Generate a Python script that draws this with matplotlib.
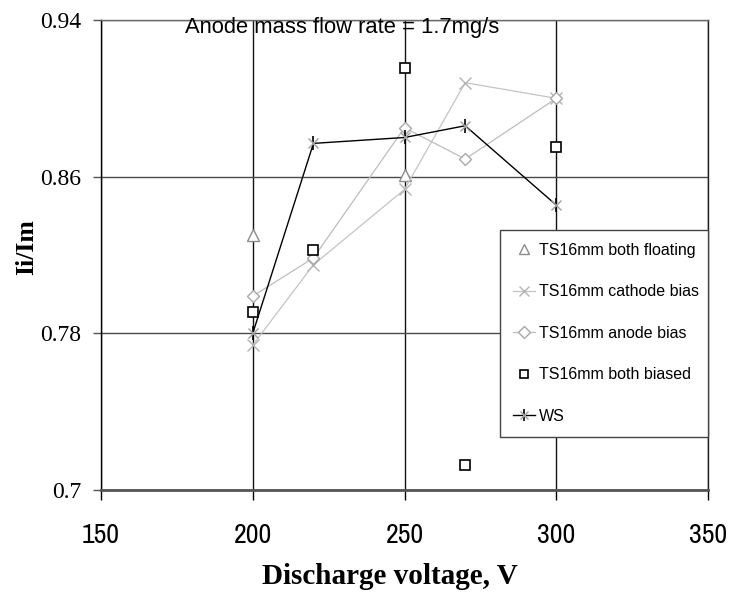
import matplotlib
matplotlib.use("Agg")
import matplotlib.pyplot as plt
from matplotlib.legend_handler import HandlerTuple

# discharge voltage (V) and ion-current ratio Ii/Im for each configuration
volts = [200, 220, 250, 270, 300]
floating_volts = [200, 250]
both_floating = [0.830, 0.861]
cathode_bias = [0.774, 0.815, 0.8535, 0.908, 0.900]
anode_bias = [0.799, 0.8185, 0.885, 0.869, 0.900]
both_biased = [0.791, 0.8225, 0.9155, 0.713, 0.875]
ws = [0.780, 0.877, 0.880, 0.886, 0.8455]

x_ticks = [150, 200, 250, 300, 350]
y_ticks = [0.7, 0.78, 0.86, 0.94]
y_ticklabels = ["0.7", "0.78", "0.86", "0.94"]

SANS = ["Liberation Sans", "DejaVu Sans"]
NARROW = ["Archivo Narrow", "Liberation Sans", "DejaVu Sans"]
SERIF = ["Liberation Serif", "DejaVu Serif"]

fig = plt.figure(figsize=(7.3, 5.95), dpi=100)
ax = fig.add_axes([101 / 730, 1 - 490 / 595, 607 / 730, 470 / 595])

ax.set_xlim(150, 350)
ax.set_ylim(0.7, 0.94)
ax.set_xticks(x_ticks)
ax.set_yticks(y_ticks)
ax.set_yticklabels(y_ticklabels)

ax.xaxis.grid(True, color="#111111", lw=1.0)
ax.yaxis.grid(True, color="#4a4a4a", lw=1.0)
ax.set_axisbelow(True)
ax.spines["top"].set_color("#6a6a6a")
ax.spines["right"].set_color("#222222")
ax.spines["left"].set_color("black")
for side in ("top", "right", "left"):
    ax.spines[side].set_linewidth(1.0)
ax.spines["bottom"].set_color("#555555")
ax.spines["bottom"].set_linewidth(2.0)

ax.tick_params(axis="x", direction="out", length=7, width=1, color="black", pad=17)
ax.tick_params(axis="y", direction="out", length=6, width=1, color="#555555", pad=8)
for lab in ax.get_xticklabels():
    lab.set_family(NARROW)
    lab.set_fontsize(20)
for lab in ax.get_yticklabels():
    lab.set_family(SERIF)
    lab.set_fontsize(17)

h_float, = ax.plot(floating_volts, both_floating, ls="none", marker="^", ms=8,
                   mfc="white", mec="#8c8c8c", mew=1.0)
h_cath, = ax.plot(volts, cathode_bias, color="#c4c4c4", lw=0.9, marker="x", ms=8,
                  mec="#b4b4b4", mew=1.0)
h_anode, = ax.plot(volts, anode_bias, color="#bdbdbd", lw=0.9, marker="D", ms=6.5,
                   mfc="white", mec="#a8a8a8", mew=1.0)
h_biased, = ax.plot(volts, both_biased, ls="none", marker="s", ms=6.5,
                    mfc="white", mec="black", mew=1.2)
h_ws_bar, = ax.plot(volts, ws, color="black", lw=1.0, marker="|", ms=10, mew=1.2)
h_ws_x, = ax.plot(volts, ws, ls="none", marker="x", ms=7, mec="#a0a0a0", mew=1.0)

ax.text(177.7, 0.9334, "Anode mass flow rate = 1.7mg/s", family=SANS,
        fontsize=15.8, va="baseline", ha="left")

ax.set_xlabel("Discharge voltage, V", family=SERIF, fontsize=21, fontweight="bold")
ax.xaxis.set_label_coords(0.476, -0.155)
ax.set_ylabel("Ii/Im", family=SERIF, fontsize=18.5, fontweight="bold")
ax.yaxis.set_label_coords(-0.103, 0.517)

leg = ax.legend(
    [h_float, h_cath, h_anode, h_biased, (h_ws_bar, h_ws_x)],
    ["TS16mm both floating", "TS16mm cathode bias", "TS16mm anode bias",
     "TS16mm both biased", "WS"],
    handler_map={tuple: HandlerTuple(ndivide=1, pad=0)},
    loc="upper left", bbox_to_anchor=(0.657, 0.117, 0.343, 0.436), mode="expand",
    prop={"family": SANS, "size": 11.5}, handlelength=1.4, handletextpad=0.25,
    labelspacing=1.66, borderpad=0.8, borderaxespad=0, fancybox=False,
    framealpha=1, edgecolor="#444444", markerscale=0.9,
)
leg.get_frame().set_linewidth(1.0)

fig.savefig("out.png", dpi=100)
